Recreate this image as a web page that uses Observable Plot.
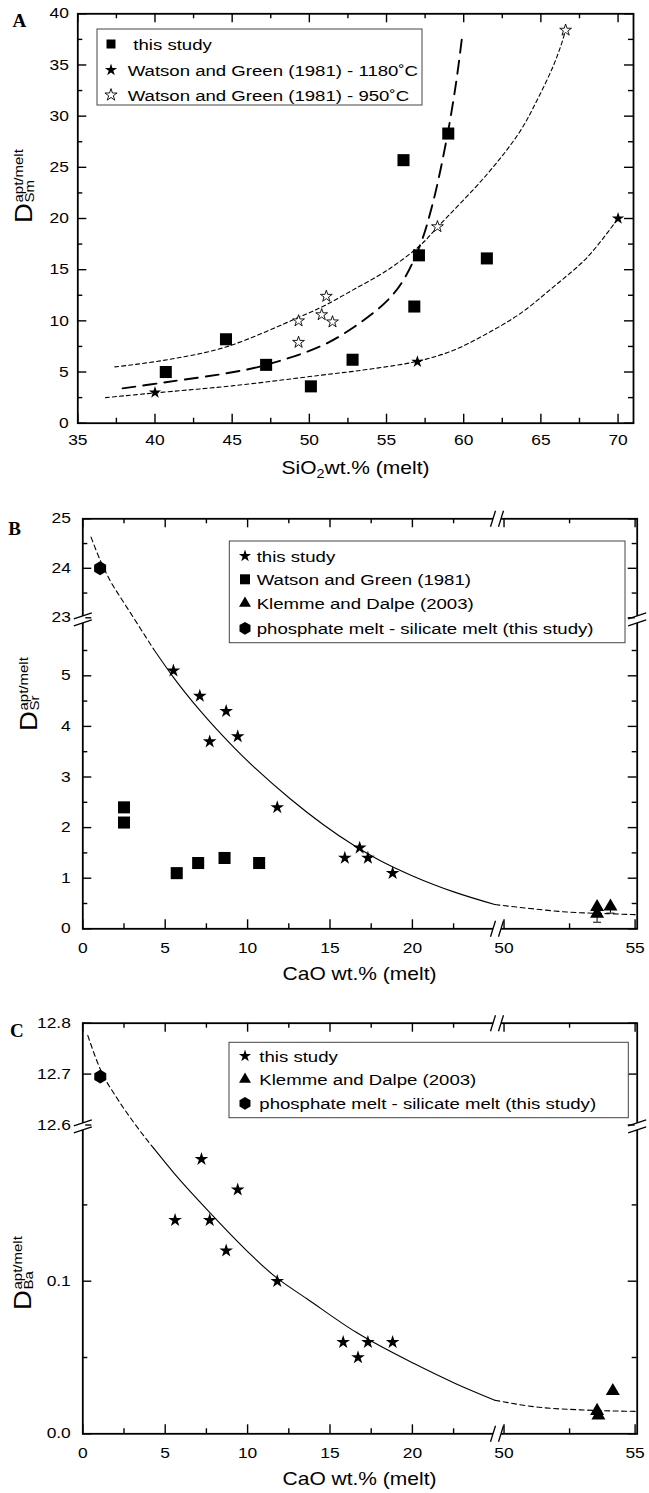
<!DOCTYPE html>
<html><head><meta charset="utf-8">
<script src="https://cdn.jsdelivr.net/npm/d3@7"></script>
<script src="https://cdn.jsdelivr.net/npm/@observablehq/plot@0.6"></script>
<style>
body{margin:0;background:#fff}
#page{position:relative;width:649px;height:1493px;background:#fff;overflow:hidden}
.panel{position:absolute;left:0}
.panel svg{overflow:visible}
</style></head><body><div id="page"></div>
<script>
// ================= DATA =================
// ---- Panel A : D(Sm) vs SiO2 ----
const aSquareX = [40.7, 44.6, 47.2, 50.1, 52.8, 56.1, 59.0, 57.1, 56.8, 61.5];
const aSquareY = [5.0, 8.2, 5.7, 3.6, 6.2, 25.7, 28.3, 16.4, 11.4, 16.1];
const aStar1180X = [40.0, 57.0, 70.0];
const aStar1180Y = [3.0, 6.0, 20.0];
const aStar950X = [49.3, 49.3, 51.1, 50.8, 51.5, 58.3, 66.6];
const aStar950Y = [10.0, 7.9, 12.4, 10.6, 9.9, 19.2, 38.4];
const aFitStudyX = [37.9, 40.7, 45.1, 47.2, 50.7, 52.8, 55.0, 56.1, 57.2, 58.0, 58.9, 59.5, 59.9];
const aFitStudyY = [3.4, 4.0, 5.0, 5.7, 7.5, 9.3, 11.9, 14.0, 17.5, 21.5, 27.8, 33.2, 37.8];
const aFit950X = [37.4, 40.8, 44.6, 49.4, 51.0, 52.8, 55.0, 57.2, 58.3, 61.5, 63.6, 64.8, 65.8, 66.3, 66.6];
const aFit950Y = [5.5, 6.2, 7.45, 10.4, 11.5, 13.0, 14.9, 17.4, 19.15, 24.3, 28.4, 31.7, 34.9, 36.9, 38.4];
const aFit1180X = [36.8, 40.0, 45.0, 50.7, 54.0, 57.0, 59.3, 61.5, 63.65, 65.8, 68.0, 70.0];
const aFit1180Y = [2.5, 2.96, 3.65, 4.68, 5.3, 6.05, 7.1, 8.75, 10.7, 13.3, 16.2, 20.0];
const aXTicks = [35, 40, 45, 50, 55, 60, 65, 70];
const aXMinor = [37.5, 42.5, 47.5, 52.5, 57.5, 62.5, 67.5];
const aYTicks = [0, 5, 10, 15, 20, 25, 30, 35, 40];
const aYMinor = [2.5, 7.5, 12.5, 17.5, 22.5, 27.5, 32.5, 37.5];

// ---- Panel B : D(Sr) vs CaO ----
const bStarX = [5.5, 7.1, 8.7, 7.7, 9.4, 11.8, 16.8, 15.9, 17.3, 18.8];
const bStarY = [5.1, 4.6, 4.3, 3.7, 3.8, 2.4, 1.6, 1.4, 1.4, 1.1];
const bSquareX = [2.5, 2.5, 5.7, 7.0, 8.6, 10.7];
const bSquareY = [2.4, 2.1, 1.1, 1.3, 1.4, 1.3];
const bTriX = [53.55, 53.55, 54.06];
const bTriY = [0.43, 0.30, 0.44];
const bErrX = [53.55, 54.06];
const bErrLo = [0.13, 0.31];
const bErrHi = [0.47, 0.57];
const bHexX = [1.05];
const bHexY = [24.0];
const bFitDashAX = [0.5, 1.06, 1.66, 2.27, 2.89, 3.80, 4.29];
const bFitDashAY = [24.63, 24.16, 23.75, 23.42, 23.10, 5.78, 5.53];
const bFitSolidX = [4.29, 5.5, 7.12, 9.15, 12.58, 16.44, 18.03, 19.98, 22.6, 25.0];
const bFitSolidY = [5.53, 4.97, 4.31, 3.59, 2.57, 1.65, 1.35, 1.05, 0.72, 0.48];
const bFitDashBX = [25.0, 51.0, 52.45, 53.9, 55.0];
const bFitDashBY = [0.48, 0.40, 0.33, 0.30, 0.28];
const bXTicks = [0, 5, 10, 15, 20, 50, 55];
const bXMinor = [2.5, 7.5, 12.5, 17.5, 22.5, 52.5];
const bYTicks = [0, 1, 2, 3, 4, 5, 23, 24, 25];
const bYMinor = [0.5, 1.5, 2.5, 3.5, 4.5, 5.5, 23.5, 24.5];
const bXBreakAt = [40];
const bYBreakAt = [18];

// ---- Panel C : D(Ba) vs CaO ----
const cStarX = [7.2, 9.4, 5.6, 7.7, 8.7, 11.8, 15.8, 17.3, 18.8, 16.7];
const cStarY = [0.18, 0.16, 0.14, 0.14, 0.12, 0.10, 0.06, 0.06, 0.06, 0.05];
const cTriX = [53.55, 53.6, 54.15];
const cTriY = [0.015, 0.012, 0.028];
const cHexX = [1.06];
const cHexY = [12.695];
const cFitDashAX = [0.30, 1.07, 2.09, 3.09, 4.31];
const cFitDashAY = [12.776, 12.709, 12.652, 12.605, 0.187];
const cFitSolidX = [4.31, 5.52, 7.71, 11.79, 13.6, 16.59, 20.1, 22.6, 25.0];
const cFitSolidY = [0.187, 0.171, 0.145, 0.102, 0.0885, 0.0665, 0.046, 0.033, 0.022];
const cFitDashBX = [25.0, 51.32, 52.9, 54.65, 55.0];
const cFitDashBY = [0.022, 0.0174, 0.0157, 0.0148, 0.0147];
const cXTicks = [0, 5, 10, 15, 20, 50, 55];
const cXMinor = [2.5, 7.5, 12.5, 17.5, 22.5, 52.5];
const cYTicks = [0, 0.1, 12.6, 12.7, 12.8];
const cYMinor = [0.05, 0.15];
const cXBreakAt = [40];
const cYBreakAt = [6.4];

// ================= HELPERS =================
const STRETCH = 1.2;
const FONT = "'Liberation Sans', Arial, Helvetica, sans-serif";
const pts = (xs, ys) => xs.map((x, i) => ({x, y: ys[i]}));

function stretchText(t) {
  const tr = t.getAttribute("transform") || "";
  t.setAttribute("transform", `${tr} scale(${STRETCH},1)`);
}

function tickMarks(xMaj, xMin, yMaj, yMin, pw, ph) {
  const o = {stroke: "black", strokeWidth: 1.4};
  return [
    Plot.ruleX(xMaj, {x: d => d, insetTop: ph - 9, ...o}),
    Plot.ruleX(xMaj, {x: d => d, insetBottom: ph - 9, ...o}),
    Plot.ruleX(xMin, {x: d => d, insetTop: ph - 5, ...o}),
    Plot.ruleX(xMin, {x: d => d, insetBottom: ph - 5, ...o}),
    Plot.ruleY(yMaj, {y: d => d, insetRight: pw - 9, ...o}),
    Plot.ruleY(yMaj, {y: d => d, insetLeft: pw - 9, ...o}),
    Plot.ruleY(yMin, {y: d => d, insetRight: pw - 5, ...o}),
    Plot.ruleY(yMin, {y: d => d, insetLeft: pw - 5, ...o})
  ];
}

const xGapSym = {draw(c) { c.moveTo(-5, -2.5); c.lineTo(3, -2.5); c.lineTo(3, 2.5); c.lineTo(-5, 2.5); c.closePath(); }};
const xBreakSym = {draw(c) { c.moveTo(-7.5, 8); c.lineTo(-2.5, -8); c.moveTo(0.5, 8); c.lineTo(5.5, -8); }};
const yGapSym = {draw(c) { c.moveTo(-2.5, -4); c.lineTo(2.5, -4); c.lineTo(2.5, 3); c.lineTo(-2.5, 3); c.closePath(); }};
const yBreakSym = {draw(c) { c.moveTo(-9, -1); c.lineTo(9, -7); c.moveTo(-9, 6); c.lineTo(9, 0); }};
const capSym = {draw(c) { c.moveTo(-4, 0); c.lineTo(4, 0); }};
const hexSym = {draw(c, size) {
  const rx = Math.sqrt(size / Math.PI), ry = rx * 2 / Math.sqrt(3), hy = ry / 2;
  c.moveTo(0, ry); c.lineTo(rx, hy); c.lineTo(rx, -hy); c.lineTo(0, -ry); c.lineTo(-rx, -hy); c.lineTo(-rx, hy); c.closePath();
}};

function breakMarks(xAt, yAt) {
  return [
    Plot.dot(xAt, {x: d => d, frameAnchor: "bottom", symbol: xGapSym, fill: "white", stroke: "none"}),
    Plot.dot(xAt, {x: d => d, frameAnchor: "top", symbol: xGapSym, fill: "white", stroke: "none"}),
    Plot.dot(yAt, {y: d => d, frameAnchor: "left", symbol: yGapSym, fill: "white", stroke: "none"}),
    Plot.dot(yAt, {y: d => d, frameAnchor: "right", symbol: yGapSym, fill: "white", stroke: "none"}),
    Plot.dot(xAt, {x: d => d, frameAnchor: "bottom", symbol: xBreakSym, fill: "none", stroke: "black", strokeWidth: 1.3}),
    Plot.dot(xAt, {x: d => d, frameAnchor: "top", symbol: xBreakSym, fill: "none", stroke: "black", strokeWidth: 1.3}),
    Plot.dot(yAt, {y: d => d, frameAnchor: "left", symbol: yBreakSym, fill: "none", stroke: "black", strokeWidth: 1.3}),
    Plot.dot(yAt, {y: d => d, frameAnchor: "right", symbol: yBreakSym, fill: "none", stroke: "black", strokeWidth: 1.3})
  ];
}

function makePanel(cfg) {
  const svg = Plot.plot({
    width: 649, height: cfg.height,
    marginLeft: cfg.mL, marginRight: cfg.mR, marginTop: cfg.mT, marginBottom: cfg.mB,
    x: {type: "linear", domain: cfg.xDomain, range: cfg.xRange, axis: null},
    y: {type: "linear", domain: cfg.yDomain, range: cfg.yRange, axis: null},
    style: {fontFamily: FONT, fontSize: "14.5px", color: "black", background: "white"},
    marks: cfg.marks
  });
  svg.querySelectorAll("text").forEach(stretchText);
  const wrap = document.createElement("div");
  wrap.className = "panel";
  wrap.style.top = cfg.top + "px";
  wrap.appendChild(svg);
  document.getElementById("page").appendChild(wrap);
  return d3.select(svg);
}

function addLegend(svg, box, rows) {
  const g = svg.append("g").attr("text-anchor", "start");
  g.append("rect").attr("x", box[0]).attr("y", box[1]).attr("width", box[2] - box[0]).attr("height", box[3] - box[1])
    .attr("fill", "white").attr("stroke", "#444").attr("stroke-width", 1);
  rows.forEach(r => {
    g.append("path").attr("d", d3.symbol(r.type, r.size)()).attr("transform", `translate(${r.sx},${r.y})`)
      .attr("fill", r.fill).attr("stroke", r.stroke || "none").attr("stroke-width", 0.9);
    g.append("text").attr("transform", `translate(${r.tx},${r.y + 5.5}) scale(${STRETCH},1)`)
      .attr("text-anchor", "start").attr("font-size", 15.5).attr("fill", "black").text(r.label);
  });
}

function addYLabel(svg, x, y, sub) {
  const g = svg.append("g").attr("text-anchor", "start")
    .attr("transform", `translate(${x},${y}) rotate(-90) scale(${STRETCH},1)`);
  const dW = 0.722 * 23;
  g.append("text").attr("font-size", 23).text("D");
  g.append("text").attr("x", dW + 0.5).attr("y", -8.7).attr("font-size", 12.5).text("apt/melt");
  g.append("text").attr("x", dW + 0.5).attr("y", 1.8).attr("font-size", 12.5).text(sub);
}

function addXTitle(svg, x, y, parts) {
  const t = svg.append("text").attr("transform", `translate(${x},${y}) scale(${STRETCH},1)`)
    .attr("text-anchor", "middle").attr("font-size", 17.5);
  parts.forEach(p => t.append("tspan").attr("dy", p.dy || 0).attr("font-size", p.size || 17.5).text(p.t));
}

function addLetter(svg, x, y, s) {
  svg.append("text").attr("x", x).attr("y", y).attr("text-anchor", "start")
    .attr("font-family", "'Liberation Serif', 'Times New Roman', serif")
    .attr("font-weight", "bold").attr("font-size", 19).text(s);
}

// ================= PANEL A =================
{
  const top = 0, H = 495, mL = 77.3, mR = 16, mT = 13.3, mB = 72.3;
  const pw = 649 - mL - mR, ph = H - mT - mB;
  const svg = makePanel({
    top, height: H, mL, mR, mT, mB,
    xDomain: [35, 71], xRange: [mL, 649 - mR],
    yDomain: [0, 40], yRange: [H - mB, mT],
    marks: [
      Plot.line(pts(aFit950X, aFit950Y), {x: "x", y: "y", curve: "catmull-rom", stroke: "black", strokeWidth: 1.1, strokeDasharray: "4,3"}),
      Plot.line(pts(aFit1180X, aFit1180Y), {x: "x", y: "y", curve: "catmull-rom", stroke: "black", strokeWidth: 1.1, strokeDasharray: "4,3"}),
      Plot.line(pts(aFitStudyX, aFitStudyY), {x: "x", y: "y", curve: "catmull-rom", stroke: "black", strokeWidth: 1.9, strokeDasharray: "13,8"}),
      Plot.frame({stroke: "black", strokeWidth: 1.8}),
      ...tickMarks(aXTicks, aXMinor, aYTicks, aYMinor, pw, ph),
      Plot.text(aXTicks, {x: d => d, frameAnchor: "bottom", lineAnchor: "middle", dy: 17, text: d => String(d)}),
      Plot.text(aYTicks, {y: d => d, frameAnchor: "left", lineAnchor: "middle", dx: -9, textAnchor: "end", text: d => String(d)}),
      Plot.dot(pts(aSquareX, aSquareY), {x: "x", y: "y", symbol: "square", r: 6.8, fill: "black", stroke: "none"}),
      Plot.dot(pts(aStar1180X, aStar1180Y), {x: "x", y: "y", symbol: "star", r: 3.9, fill: "black", stroke: "none"}),
      Plot.dot(pts(aStar950X, aStar950Y), {x: "x", y: "y", symbol: "star", r: 3.7, fill: "white", stroke: "black", strokeWidth: 0.9})
    ]
  });
  addLegend(svg, [97, 29, 422, 105], [
    {type: d3.symbolSquare, size: 81, fill: "black", sx: 111, y: 44, tx: 133.3, label: "this study"},
    {type: d3.symbolStar, size: 46, fill: "black", sx: 111, y: 70, tx: 127.7, label: "Watson and Green (1981) - 1180˚C"},
    {type: d3.symbolStar, size: 46, fill: "white", stroke: "black", sx: 111, y: 95, tx: 127.7, label: "Watson and Green (1981) - 950˚C"}
  ]);
  addYLabel(svg, 32, 223, "Sm");
  addXTitle(svg, 355.5, 474.4, [{t: "SiO"}, {t: "2", size: 12, dy: 4}, {t: "wt.% (melt)", dy: -4}]);
  addLetter(svg, 12.5, 26.7, "A");
}

// ================= PANEL B =================
{
  const top = 495, H = 505, mL = 82.3, mR = 12.3, mT = 23.3, mB = 71.7;
  const pw = 649 - mL - mR, ph = H - mT - mB;
  const svg = makePanel({
    top, height: H, mL, mR, mT, mB,
    xDomain: [0, 25, 49.85, 55.08], xRange: [82.3, 494.3, 499.6, 636.7],
    yDomain: [0, 6, 23, 25], yRange: [433.3, 129.7, 122.3, 23.3],
    marks: [
      Plot.line(pts(bFitDashAX, bFitDashAY), {x: "x", y: "y", curve: "monotone-x", stroke: "black", strokeWidth: 1.1, strokeDasharray: "5,3.5"}),
      Plot.line(pts(bFitSolidX, bFitSolidY), {x: "x", y: "y", curve: "monotone-x", stroke: "black", strokeWidth: 1.1}),
      Plot.line(pts(bFitDashBX, bFitDashBY), {x: "x", y: "y", curve: "monotone-x", stroke: "black", strokeWidth: 1.1, strokeDasharray: "5,3.5"}),
      Plot.frame({stroke: "black", strokeWidth: 1.8}),
      ...tickMarks(bXTicks, bXMinor, bYTicks, bYMinor, pw, ph),
      ...breakMarks(bXBreakAt, bYBreakAt),
      Plot.text(bXTicks, {x: d => d, frameAnchor: "bottom", lineAnchor: "middle", dy: 20, text: d => String(d)}),
      Plot.text(bYTicks, {y: d => d, frameAnchor: "left", lineAnchor: "middle", dx: -12, textAnchor: "end", text: d => String(d)}),
      Plot.ruleX(bErrX.map((x, i) => ({x, lo: bErrLo[i], hi: bErrHi[i]})), {x: "x", y1: "lo", y2: "hi", stroke: "black", strokeWidth: 1}),
      Plot.dot(bErrX.map((x, i) => ({x, lo: bErrLo[i]})), {x: "x", y: "lo", symbol: capSym, fill: "none", stroke: "black", strokeWidth: 1}),
      Plot.dot(pts(bSquareX, bSquareY), {x: "x", y: "y", symbol: "square", r: 6.8, fill: "black", stroke: "none"}),
      Plot.dot(pts(bStarX, bStarY), {x: "x", y: "y", symbol: "star", r: 4.3, fill: "black", stroke: "none"}),
      Plot.dot(pts(bTriX, bTriY), {x: "x", y: "y", symbol: "triangle", r: 5.2, fill: "black", stroke: "none"}),
      Plot.dot(pts(bHexX, bHexY), {x: "x", y: "y", symbol: hexSym, r: 6, fill: "black", stroke: "none"})
    ]
  });
  const o = -top;
  addLegend(svg, [229.3, 541 + o, 625, 642.7 + o], [
    {type: d3.symbolStar, size: 46, fill: "black", sx: 245, y: 556 + o, tx: 256.7, label: "this study"},
    {type: d3.symbolSquare, size: 100, fill: "black", sx: 245, y: 579.3 + o, tx: 256.7, label: "Watson and Green (1981)"},
    {type: d3.symbolTriangle, size: 62, fill: "black", sx: 245, y: 603.3 + o, tx: 256.7, label: "Klemme and Dalpe (2003)"},
    {type: hexSym, size: 95, fill: "black", sx: 245, y: 628.3 + o, tx: 256.7, label: "phosphate melt - silicate melt (this study)"}
  ]);
  addYLabel(svg, 37, 731 + o, "Sr");
  addXTitle(svg, 359.5, 980 + o, [{t: "CaO wt.% (melt)"}]);
  addLetter(svg, 8.3, 535 + o, "B");
}

// ================= PANEL C =================
{
  const top = 1000, H = 493, mL = 82.3, mR = 12.3, mT = 22.7, mB = 59.7;
  const pw = 649 - mL - mR, ph = H - mT - mB;
  const svg = makePanel({
    top, height: H, mL, mR, mT, mB,
    xDomain: [0, 25, 49.85, 55.08], xRange: [82.3, 494.3, 499.6, 636.7],
    yDomain: [0, 0.2, 12.6, 12.8], yRange: [433.3, 128.1, 124.5, 22.7],
    marks: [
      Plot.line(pts(cFitDashAX, cFitDashAY), {x: "x", y: "y", curve: "monotone-x", stroke: "black", strokeWidth: 1.1, strokeDasharray: "5,3.5"}),
      Plot.line(pts(cFitSolidX, cFitSolidY), {x: "x", y: "y", curve: "monotone-x", stroke: "black", strokeWidth: 1.1}),
      Plot.line(pts(cFitDashBX, cFitDashBY), {x: "x", y: "y", curve: "monotone-x", stroke: "black", strokeWidth: 1.1, strokeDasharray: "5,3.5"}),
      Plot.frame({stroke: "black", strokeWidth: 1.8}),
      ...tickMarks(cXTicks, cXMinor, cYTicks, cYMinor, pw, ph),
      ...breakMarks(cXBreakAt, cYBreakAt),
      Plot.text(cXTicks, {x: d => d, frameAnchor: "bottom", lineAnchor: "middle", dy: 20, text: d => String(d)}),
      Plot.text(cYTicks, {y: d => d, frameAnchor: "left", lineAnchor: "middle", dx: -12, textAnchor: "end", text: d => d3.format(".1f")(d)}),
      Plot.dot(pts(cStarX, cStarY), {x: "x", y: "y", symbol: "star", r: 4.3, fill: "black", stroke: "none"}),
      Plot.dot(pts(cTriX, cTriY), {x: "x", y: "y", symbol: "triangle", r: 5.2, fill: "black", stroke: "none"}),
      Plot.dot(pts(cHexX, cHexY), {x: "x", y: "y", symbol: hexSym, r: 6, fill: "black", stroke: "none"})
    ]
  });
  const o = -top;
  addLegend(svg, [229, 1042.3 + o, 628.3, 1117.7 + o], [
    {type: d3.symbolStar, size: 46, fill: "black", sx: 245, y: 1056 + o, tx: 259.3, label: "this study"},
    {type: d3.symbolTriangle, size: 62, fill: "black", sx: 245, y: 1079.3 + o, tx: 259.3, label: "Klemme and Dalpe (2003)"},
    {type: hexSym, size: 95, fill: "black", sx: 245, y: 1103.3 + o, tx: 259.3, label: "phosphate melt - silicate melt (this study)"}
  ]);
  addYLabel(svg, 31, 1310 + o, "Ba");
  addXTitle(svg, 359.5, 1485 + o, [{t: "CaO wt.% (melt)"}]);
  addLetter(svg, 10, 1037 + o, "C");
}
</script></body></html>
